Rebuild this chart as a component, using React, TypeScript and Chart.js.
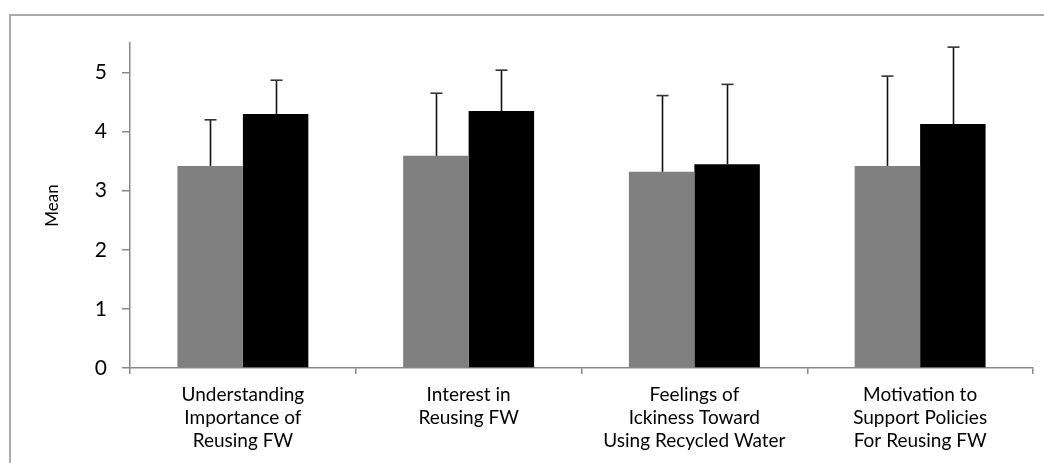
import React, { useEffect, useRef } from "react";
import { Chart, registerables } from "chart.js";

Chart.register(...registerables);

const categories: string[][] = [
  ["Understanding", "Importance of", "Reusing FW"],
  ["Interest in", "Reusing FW"],
  ["Feelings of", "Ickiness Toward", "Using Recycled Water"],
  ["Motivation to", "Support Policies", "For Reusing FW"],
];

const grayMeans = [3.42, 3.59, 3.32, 3.42];
const graySD = [0.78, 1.06, 1.29, 1.52];
const blackMeans = [4.3, 4.35, 3.45, 4.13];
const blackSD = [0.57, 0.69, 1.35, 1.3];

const yTicks = [0, 1, 2, 3, 4, 5];

const FONT = "Lato, 'Open Sans', sans-serif";

const errorBarPlugin = {
  id: "errorBars",
  afterDatasetsDraw(chart: any) {
    const { ctx } = chart;
    const yScale = chart.scales.y;
    chart.data.datasets.forEach((ds: any, di: number) => {
      const meta = chart.getDatasetMeta(di);
      const errs: number[] = ds.errors || [];
      meta.data.forEach((bar: any, i: number) => {
        const v = ds.data[i];
        const e = errs[i];
        if (v == null || e == null) return;
        const x = Math.round(bar.x) + 0.5;
        const yTop = yScale.getPixelForValue(v + e);
        ctx.save();
        ctx.strokeStyle = "#111";
        ctx.lineWidth = 1.6;
        ctx.beginPath();
        ctx.moveTo(x, bar.y);
        ctx.lineTo(x, yTop);
        ctx.stroke();
        ctx.strokeStyle = "#333";
        ctx.lineWidth = 1.6;
        ctx.beginPath();
        ctx.moveTo(x - 6, yTop);
        ctx.lineTo(x + 6, yTop);
        ctx.stroke();
        ctx.restore();
      });
    });
  },
};

export default function App() {
  const ref = useRef<HTMLCanvasElement | null>(null);

  useEffect(() => {
    if (!ref.current) return;
    const chart = new Chart(ref.current, {
      type: "bar",
      data: {
        labels: categories as any,
        datasets: [
          {
            label: "Group 1",
            data: grayMeans,
            backgroundColor: "#808080",
            borderWidth: 0,
            errors: graySD,
          } as any,
          {
            label: "Group 2",
            data: blackMeans,
            backgroundColor: "#000000",
            borderWidth: 0,
            errors: blackSD,
          } as any,
        ],
      },
      options: {
        responsive: false,
        animation: false,
        layout: { padding: { top: 43, right: 11, bottom: 0, left: 0 } },
        plugins: {
          legend: { display: false },
          tooltip: { enabled: false },
        },
        datasets: {
          bar: { categoryPercentage: 0.58, barPercentage: 1.0 },
        },
        scales: {
          x: {
            grid: {
              display: true,
              drawOnChartArea: false,
              drawTicks: true,
              tickLength: 6,
              color: "#888888",
              lineWidth: 1.5,
              offset: true,
            },
            border: { display: true, color: "#888888", width: 1.5 },
            ticks: {
              autoSkip: false,
              maxRotation: 0,
              minRotation: 0,
              color: "#000",
              padding: 9,
              font: { family: FONT, size: 19, lineHeight: 1.22 },
            },
            afterFit(s: any) {
              s.height = 95;
            },
          },
          y: {
            min: 0,
            max: 5.5,
            ticks: {
              stepSize: 1,
              color: "#000",
              padding: 15,
              font: { family: FONT, size: 21 },
            },
            afterBuildTicks(s: any) {
              s.ticks = yTicks.map((v) => ({ value: v }));
            },
            grid: {
              display: true,
              drawOnChartArea: false,
              drawTicks: true,
              tickLength: 8,
              color: "#888888",
              lineWidth: 1.5,
            },
            border: { display: true, color: "#888888", width: 1.5 },
            title: {
              display: true,
              text: "Mean",
              color: "#000",
              font: { family: FONT, size: 17 },
              padding: { top: 42, bottom: 0 },
            },
            afterFit(s: any) {
              s.width = 130;
            },
          },
        },
      },
      plugins: [errorBarPlugin],
    });
    return () => chart.destroy();
  }, []);

  return (
    <div
      style={{
        position: "absolute",
        left: 0,
        top: 0,
        width: 1044,
        height: 463,
        background: "#fff",
        overflow: "hidden",
      }}
    >
      <div
        style={{
          position: "absolute",
          left: 9,
          top: 14,
          width: 1040,
          height: 470,
          border: "2px solid #a9a9a9",
          boxSizing: "border-box",
        }}
      />
      <canvas
        ref={ref}
        width={1044}
        height={463}
        style={{ position: "absolute", left: 0, top: 0, width: 1044, height: 463 }}
      />
    </div>
  );
}
